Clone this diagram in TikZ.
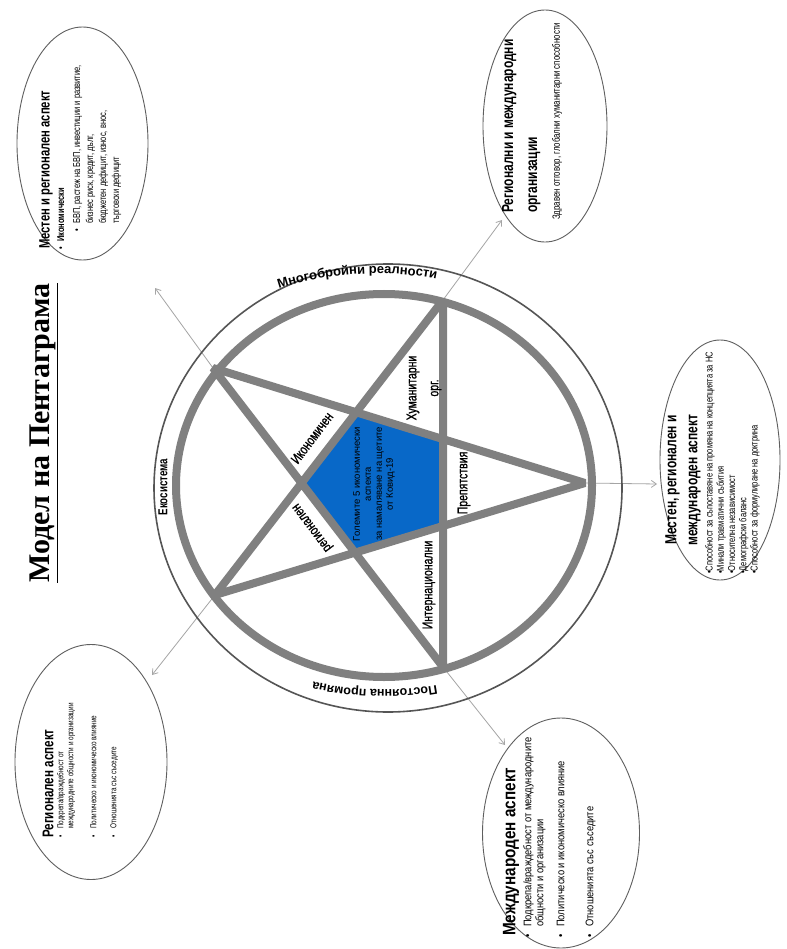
\documentclass[tikz,border=0pt]{standalone}
\usepackage{fontspec}
\setmainfont{Liberation Sans}
\newfontfamily\cond[FakeStretch=0.75]{Liberation Sans}
\newfontfamily\condm[FakeStretch=0.75,FakeBold=1]{Liberation Sans}
\newfontfamily\condw[FakeStretch=0.85]{Liberation Sans}
\newfontfamily\serifttl{Liberation Serif}
\usetikzlibrary{shapes.geometric,arrows.meta,decorations.text}
\definecolor{stargrey}{RGB}{128,128,128}
\definecolor{pentblue}{RGB}{8,104,200}
\definecolor{rimgrey}{RGB}{85,85,85}
\definecolor{arrgrey}{RGB}{165,165,165}
\definecolor{ellgrey}{RGB}{95,95,95}
\begin{document}
\begin{tikzpicture}[x=1pt,y=1pt,
  starline/.style={draw=stargrey, line width=8pt, line join=bevel},
  ringline/.style={draw=stargrey, line width=8pt},
  rimline/.style={draw=rimgrey, line width=1.6pt},
  bubble/.style={draw=ellgrey, line width=0.9pt, ellipse, inner sep=0pt},
  outarrow/.style={draw=arrgrey, line width=0.8pt, -{Straight Barb[length=5pt,width=7pt]}},
  vtext/.style={rotate=90, inner sep=0pt},
  slant/.style={inner sep=0pt, font=\condm\fontsize{14}{16}\selectfont},
  inlabel/.style={vtext, font=\condm\fontsize{14}{16}\selectfont},
  bubtitle/.style={vtext, font=\cond\bfseries\fontsize{16}{21}\selectfont},
  bubbody/.style={vtext, align=left}
]
\useasboundingbox (0,0) rectangle (786,-949);
\fill[white] (0,0) rectangle (786,-949);

% pentagram vertices
\coordinate (TR) at (443,-300);
\coordinate (R)  at (585,-483);
\coordinate (BR) at (443,-667);
\coordinate (LL) at (215,-595);
\coordinate (LU) at (213,-368);
\coordinate (P1) at (intersection of LU--R and LL--TR);
\coordinate (P2) at (intersection of LU--R and TR--BR);
\coordinate (P3) at (intersection of LL--R and TR--BR);
\coordinate (P4) at (intersection of LL--R and LU--BR);
\coordinate (P5) at (intersection of LL--TR and LU--BR);

% arrow ends
\coordinate (aLU) at (155,-288);
\coordinate (aTR) at (502,-220);
\coordinate (aR)  at (657,-484);
\coordinate (aBR) at (505,-745);
\coordinate (aLL) at (152,-675);
\draw[outarrow] (LU) -- (aLU);
\draw[outarrow] (TR) -- (aTR);
\draw[outarrow] (R) -- (aR);
\draw[outarrow] (BR) -- (aBR);
\draw[outarrow] (LL) -- (aLL);

% rings
\draw[rimline] (388,-488) ellipse [x radius=234, y radius=224];
\draw[ringline] (384,-485.5) ellipse [x radius=208, y radius=191.5];

% star
\fill[pentblue] (P1) -- (P2) -- (P3) -- (P4) -- (P5) -- cycle;
\draw[starline] (TR) -- (BR) -- (LU) -- (R) -- (LL) -- cycle;

% ring texts
\path[decorate, decoration={text along path, text align=center,
  text={|\bfseries\fontsize{13}{14}\selectfont|Многобройни реалности}}]
  (264,-294) .. controls (320,-271) and (400,-268) .. (452,-283);
\path[decorate, decoration={text along path, text align=center,
  text={|\bfseries\fontsize{12.5}{13}\selectfont|Постоянна промяна}}]
  (447,-683) .. controls (405,-693) and (345,-692) .. (303,-679);
\node[vtext, font=\cond\bfseries\fontsize{13}{14}\selectfont] (lEko) at (163,-487) {Екосистема};

% star labels
\node[inlabel, align=center, font=\condm\fontsize{14}{22}\selectfont] (lHum) at (424,-388) {Хуманитарни\\орг.};
\node[inlabel] (lPre) at (464,-483) {Препятствия};
\node[inlabel] (lInt) at (429,-585) {Интернационални};
\node[slant, rotate=53] (lIko) at (312,-438) {Икономичен};
\node[slant, rotate=127] (lReg) at (313,-527) {регионален};
\node[vtext, align=center, font=\fontsize{9.5}{11}\selectfont, text=black] (lCen) at (374,-484)
  {Големите 5 икономически\\аспекта\\за намаляване на щетите\\от Ковид-19};

% title
\node[vtext, font=\serifttl\bfseries\fontsize{30}{32}\selectfont] (title) at (44,-433) {\underline{Модел на Пентаграма}};

% bubble A: top left
\node[bubble, minimum width=131pt, minimum height=233pt] (bA) at (82.5,-143.5) {};
\node[vtext, anchor=west, font=\cond\bfseries\fontsize{15}{17}\selectfont] (tA) at (46,-249) {Местен и регионален аспект};
\node[bubbody, anchor=north west, font=\cond\fontsize{10}{13}\selectfont] (xA) at (57,-250)
  {\makebox[8pt][l]{•}{\bfseries Икономически}\\[3pt]
   \hspace*{18pt}\makebox[8pt][l]{•}БВП, растеж на БВП, инвестиции и развитие,\\
   \hspace*{26pt}бизнес риск, кредит, дълг,\\
   \hspace*{26pt}бюджетен дефицит, износ, внос,\\
   \hspace*{26pt}търговски дефицит};

% bubble B: top right
\node[bubble, minimum width=124pt, minimum height=232pt] (bB) at (545,-126) {};
\node[bubtitle, anchor=north west, align=left, font=\cond\bfseries\fontsize{16}{24}\selectfont] (tB) at (502,-213)
  {Регионални и международни\\организации};
\node[vtext, anchor=west, font=\cond\fontsize{10.5}{12}\selectfont] (xB) at (557,-220)
  {Здравен отговор, глобални хуманитарни способности};

% bubble C: right
\node[bubble, minimum width=120pt, minimum height=240pt] (bC) at (720,-460) {};
\node[bubtitle, align=center] (tC) at (683,-480) {Местен, регионален и\\международен аспект};
\node[bubbody, anchor=north west, font=\cond\fontsize{10}{11.3}\selectfont] (xC) at (705,-574)
  {•Способност за съпоставяне на промяна на концепцията за НС\\
   •Минали травматични събития\\
   •Относителна независимост\\
   •Демографски баланс\\
   •Способност за формулиране на доктрина};

% bubble D: bottom left
\node[bubble, minimum width=152pt, minimum height=235pt] (bD) at (91,-762) {};
\node[vtext, anchor=west, font=\cond\bfseries\fontsize{15.5}{17}\selectfont] (tD) at (48,-838) {Регионален аспект};
\node[bubbody, anchor=north west, font=\cond\fontsize{8.5}{10}\selectfont] (xD) at (57,-838)
  {\makebox[9pt][l]{•}Подкрепа/враждебност от\\
   \hspace*{9pt}международните общности и организации\\[13pt]
   \makebox[9pt][l]{•}Политическо и икономическо влияние\\[10pt]
   \makebox[9pt][l]{•}Отношенията със съседите};

% bubble E: bottom
\node[bubble, minimum width=157pt, minimum height=230pt] (bE) at (561,-833) {};
\node[vtext, anchor=west, font=\condw\bfseries\fontsize{18}{20}\selectfont] (tE) at (511,-936) {Международен аспект};
\node[bubbody, anchor=north west, font=\condw\fontsize{11}{12}\selectfont] (xE) at (523,-938)
  {\makebox[11pt][l]{•}Подкрепа/враждебност от международните\\
   \hspace*{11pt}общности и организации\\[9pt]
   \makebox[11pt][l]{•}Политическо и икономическо влияние\\[17pt]
   \makebox[11pt][l]{•}Отношенията със съседите};
\end{tikzpicture}
\end{document}
